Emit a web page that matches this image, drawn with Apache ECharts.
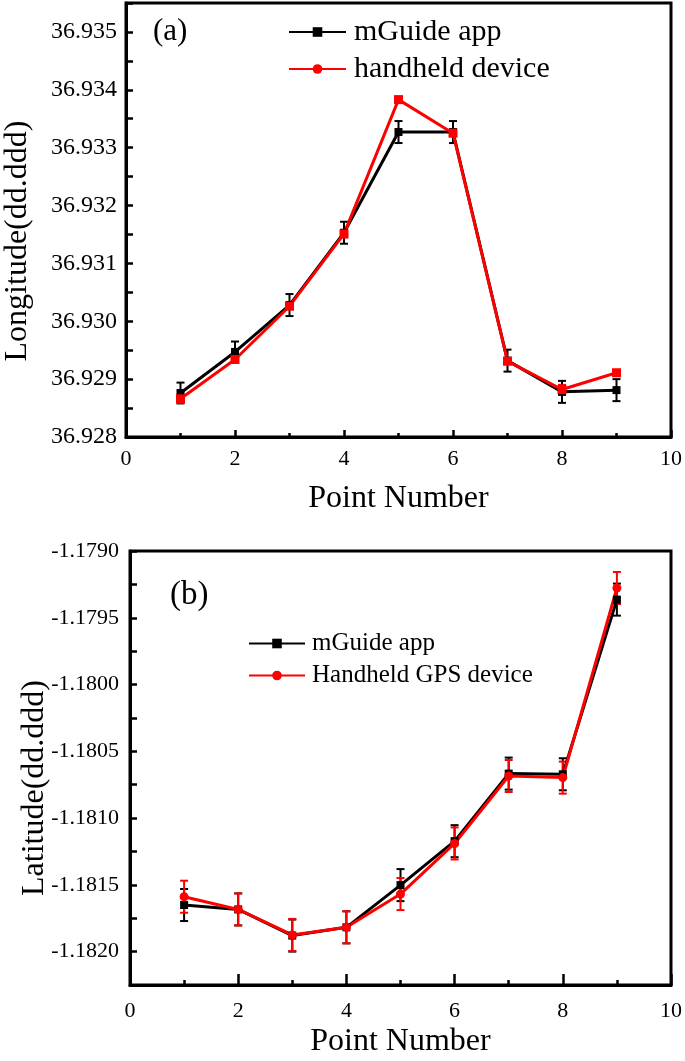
<!DOCTYPE html>
<html>
<head>
<meta charset="utf-8">
<script src="https://cdn.jsdelivr.net/npm/echarts@6/dist/echarts.min.js"></script>
<style>
html,body{margin:0;padding:0;background:#fff;}
#chart{width:685px;height:1061px;}
</style>
</head>
<body>
<div id="chart"></div>
<script>
// ---------- data ----------
const pointNumbers = [1, 2, 3, 4, 5, 6, 7, 8, 9];

// (a) Longitude
const lonAppName = 'mGuide app';
const lonDevName = 'handheld device';
const lonApp    = [36.92876, 36.92947, 36.93028, 36.93153, 36.93327, 36.93327, 36.92932, 36.92878, 36.92881];
const lonAppErr = [0.00018, 0.00018, 0.00019, 0.00019, 0.00019, 0.00019, 0.00019, 0.00019, 0.00019];
const lonDev    = [36.92866, 36.92934, 36.93026, 36.93151, 36.93383, 36.93325, 36.92931, 36.92882, 36.92911];
const lonDevErr = [0.00007, 0.00005, 0.00005, 0.00006, 0.00005, 0.00005, 0.00005, 0.00008, 0.00005];

// (b) Latitude
const latAppName = 'mGuide app';
const latDevName = 'Handheld GPS device';
const latApp    = [-1.181651, -1.181684, -1.181880, -1.181818, -1.181502, -1.181173, -1.180667, -1.180672, -1.179364];
const latAppErr = [0.00012, 0.00012, 0.00012, 0.00012, 0.00012, 0.00012, 0.00012, 0.00012, 0.00012];
const latDev    = [-1.181589, -1.181684, -1.181875, -1.181818, -1.181569, -1.181190, -1.180685, -1.180697, -1.179277];
const latDevErr = [0.00012, 0.00012, 0.00012, 0.00012, 0.00012, 0.00012, 0.00012, 0.00012, 0.00012];

// axis ranges / tick steps
const xMin = 0, xMax = 10, xStep = 2;
const lonMin = 36.928, lonMax = 36.9355, lonTickStep = 0.0005, lonLabelStep = 0.001;
const latMin = -1.18225, latMax = -1.1790, latTickStep = 0.00025, latLabelStep = 0.0005;

const xTitle = 'Point Number';
const lonTitle = 'Longitude(dd.ddd)';
const latTitle = 'Latitude(dd.ddd)';
const panelA = '(a)', panelB = '(b)';

// ---------- helpers ----------
const FONT = '"Liberation Serif", "Times New Roman", serif';
const BLACK = '#000000', RED = '#ff0000';

function pairs(xs, ys) { return xs.map((x, i) => [x, ys[i]]); }
function triples(xs, ys, es) { return xs.map((x, i) => [x, ys[i], es[i]]); }
function labelFmt(base, step, digits) {
  return function (v) {
    const k = Math.round((v - base) / step);
    return Math.abs(base + k * step - v) < step * 1e-3 ? v.toFixed(digits) : '';
  };
}
function errRender(color) {
  return function (params, api) {
    const x = api.value(0), y = api.value(1), e = api.value(2);
    const t = api.coord([x, y + e]);
    const b = api.coord([x, y - e]);
    const hw = 4;
    const st = { stroke: color, lineWidth: 2 };
    return {
      type: 'group',
      children: [
        { type: 'line', shape: { x1: t[0], y1: t[1], x2: b[0], y2: b[1] }, style: st },
        { type: 'line', shape: { x1: t[0] - hw, y1: t[1], x2: t[0] + hw, y2: t[1] }, style: st },
        { type: 'line', shape: { x1: b[0] - hw, y1: b[1], x2: b[0] + hw, y2: b[1] }, style: st }
      ]
    };
  };
}
function xAxisCfg(gridIndex, nameGap, labelMargin, majorLen, minorLen) {
  return {
    gridIndex: gridIndex, type: 'value', min: xMin, max: xMax, interval: xStep,
    name: xTitle, nameLocation: 'middle', nameGap: nameGap,
    nameTextStyle: { fontFamily: FONT, fontSize: 32, color: BLACK },
    axisLine: { show: true, onZero: false, lineStyle: { color: BLACK, width: 3 } },
    axisTick: { show: true, inside: true, length: majorLen, lineStyle: { color: BLACK, width: 2.5 } },
    minorTick: { show: true, splitNumber: 2, length: minorLen, lineStyle: { color: BLACK, width: 2.5 } },
    axisLabel: { fontFamily: FONT, fontSize: 22, color: BLACK, margin: labelMargin },
    splitLine: { show: false }, minorSplitLine: { show: false }
  };
}

const chart = echarts.init(document.getElementById('chart'), null, { renderer: 'canvas' });

const option = {
  animation: false,
  backgroundColor: '#ffffff',
  grid: [
    { left: 126, right: 13, top: 3, height: 434, show: true, borderColor: BLACK, borderWidth: 3, containLabel: false },
    { left: 130, right: 11, top: 551, height: 434, show: true, borderColor: BLACK, borderWidth: 3, containLabel: false }
  ],
  xAxis: [
    xAxisCfg(0, 46, 11, 7, 4),
    xAxisCfg(1, 41, 15, 11, 5)
  ],
  yAxis: [
    {
      gridIndex: 0, type: 'value', min: lonMin, max: lonMax, interval: lonTickStep, scale: true,
      axisLine: { show: true, onZero: false, lineStyle: { color: BLACK, width: 3 } },
      axisTick: { show: true, inside: true, length: 7, lineStyle: { color: BLACK, width: 2.5 } },
      axisLabel: { fontFamily: FONT, fontSize: 24, color: BLACK, margin: 9,
                   formatter: labelFmt(lonMin, lonLabelStep, 3) },
      splitLine: { show: false }
    },
    {
      gridIndex: 1, type: 'value', min: latMin, max: latMax, interval: latTickStep, scale: true,
      axisLine: { show: true, onZero: false, lineStyle: { color: BLACK, width: 3 } },
      axisTick: { show: true, inside: true, length: 7, lineStyle: { color: BLACK, width: 2.5 } },
      axisLabel: { fontFamily: FONT, fontSize: 22, color: BLACK, margin: 11,
                   formatter: labelFmt(latMax, latLabelStep, 4) },
      splitLine: { show: false }
    }
  ],
  legend: [
    {
      orient: 'vertical', left: 288, top: 17, padding: 0, itemGap: 7,
      itemWidth: 57, itemHeight: 12, selectedMode: false,
      textStyle: { fontFamily: FONT, fontSize: 30, color: BLACK, padding: [0, 0, 0, 3] },
      data: [lonAppName, lonDevName]
    },
    {
      orient: 'vertical', left: 248, top: 631, padding: 0, itemGap: 7,
      itemWidth: 56, itemHeight: 12, selectedMode: false,
      textStyle: { fontFamily: FONT, fontSize: 25, color: BLACK, padding: [0, 0, 0, 2] },
      data: [latAppName, latDevName]
    }
  ],
  graphic: [
    { type: 'text', x: 153, y: 32, style: { text: panelA, font: '31px ' + FONT, fill: BLACK, align: 'left', verticalAlign: 'middle' } },
    { type: 'text', x: 170, y: 595, style: { text: panelB, font: '33px ' + FONT, fill: BLACK, align: 'left', verticalAlign: 'middle' } },
    { type: 'text', x: 18, y: 241, rotation: Math.PI / 2, style: { text: lonTitle, font: '32px ' + FONT, fill: BLACK, align: 'center', verticalAlign: 'middle' } },
    { type: 'text', x: 35, y: 788, rotation: Math.PI / 2, style: { text: latTitle, font: '32px ' + FONT, fill: BLACK, align: 'center', verticalAlign: 'middle' } }
  ],
  series: [
    // (a)
    { name: lonAppName + ' err', type: 'custom', xAxisIndex: 0, yAxisIndex: 0,
      renderItem: errRender(BLACK), data: triples(pointNumbers, lonApp, lonAppErr), encode: { x: 0, y: 1 }, silent: true },
    { name: lonAppName, type: 'line', xAxisIndex: 0, yAxisIndex: 0,
      data: pairs(pointNumbers, lonApp), symbol: 'rect', symbolSize: 8,
      lineStyle: { color: BLACK, width: 3 }, itemStyle: { color: BLACK } },
    { name: lonDevName + ' err', type: 'custom', xAxisIndex: 0, yAxisIndex: 0,
      renderItem: errRender(RED), data: triples(pointNumbers, lonDev, lonDevErr), encode: { x: 0, y: 1 }, silent: true },
    { name: lonDevName, type: 'line', xAxisIndex: 0, yAxisIndex: 0,
      data: pairs(pointNumbers, lonDev).map(p => ({ value: p, symbol: 'rect' })),
      symbol: 'circle', symbolSize: 9,
      lineStyle: { color: RED, width: 3 }, itemStyle: { color: RED } },
    // (b)
    { name: latAppName + ' err b', type: 'custom', xAxisIndex: 1, yAxisIndex: 1,
      renderItem: errRender(BLACK), data: triples(pointNumbers, latApp, latAppErr), encode: { x: 0, y: 1 }, silent: true },
    { name: latAppName, type: 'line', xAxisIndex: 1, yAxisIndex: 1,
      data: pairs(pointNumbers, latApp), symbol: 'rect', symbolSize: 8,
      lineStyle: { color: BLACK, width: 3 }, itemStyle: { color: BLACK } },
    { name: latDevName + ' err', type: 'custom', xAxisIndex: 1, yAxisIndex: 1,
      renderItem: errRender(RED), data: triples(pointNumbers, latDev, latDevErr), encode: { x: 0, y: 1 }, silent: true },
    { name: latDevName, type: 'line', xAxisIndex: 1, yAxisIndex: 1,
      data: pairs(pointNumbers, latDev), symbol: 'circle', symbolSize: 9,
      lineStyle: { color: RED, width: 3 }, itemStyle: { color: RED } }
  ]
};
chart.setOption(option);
</script>
</body>
</html>
